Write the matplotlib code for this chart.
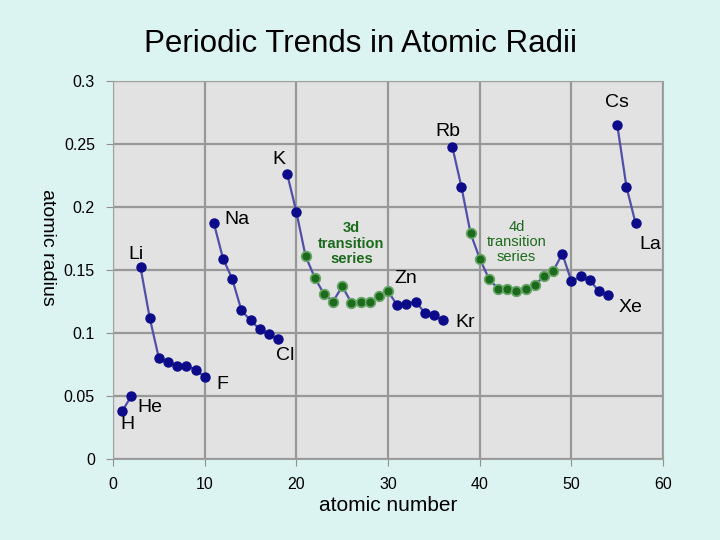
import matplotlib
matplotlib.use("Agg")
import matplotlib.pyplot as plt

plt.rcParams['font.family'] = ['Liberation Sans', 'DejaVu Sans']

# atomic numbers and radii, one list per period (each drawn as its own segment)
z_p1 = [1, 2]
r_p1 = [0.038, 0.050]
z_p2 = [3, 4, 5, 6, 7, 8, 9, 10]
r_p2 = [0.152, 0.112, 0.080, 0.077, 0.074, 0.074, 0.071, 0.065]
z_p3 = [11, 12, 13, 14, 15, 16, 17, 18]
r_p3 = [0.187, 0.159, 0.143, 0.118, 0.110, 0.103, 0.099, 0.095]
z_p4 = list(range(19, 37))
r_p4 = [0.226, 0.196, 0.161, 0.144, 0.131, 0.125, 0.137, 0.124, 0.125, 0.125,
        0.129, 0.133, 0.122, 0.123, 0.125, 0.116, 0.114, 0.110]
z_p5 = list(range(37, 55))
r_p5 = [0.248, 0.216, 0.179, 0.159, 0.143, 0.135, 0.135, 0.133, 0.135, 0.138,
        0.145, 0.149, 0.163, 0.141, 0.145, 0.142, 0.133, 0.130]
z_p6 = [55, 56, 57]
r_p6 = [0.265, 0.216, 0.187]

# transition series (drawn green)
z_3d = list(range(21, 31))
z_4d = list(range(39, 49))

labels = ["H", "He", "Li", "F", "Na", "Cl", "K", "Zn", "Kr", "Rb", "Cs", "La", "Xe"]
label_x = [1.6, 4.0, 2.5, 11.9, 13.5, 18.8, 18.1, 31.9, 38.4, 36.5, 55.0, 58.6, 56.4]
label_y = [0.027, 0.041, 0.162, 0.059, 0.190, 0.082, 0.238, 0.143, 0.108, 0.260, 0.283, 0.170, 0.120]

blue = '#0c0c8a'
line_c = '#5050a8'
green = '#1c6a1c'

fig = plt.figure(figsize=(7.2, 5.4), dpi=100, facecolor='#dcf4f1')
ax = fig.add_axes([0.157, 0.15, 0.764, 0.70])
ax.set_facecolor('#e2e2e2')

periods = [(z_p1, r_p1), (z_p2, r_p2), (z_p3, r_p3), (z_p4, r_p4), (z_p5, r_p5), (z_p6, r_p6)]
for zs, rs in periods:
    ax.plot(zs, rs, '-', color=line_c, lw=1.6, zorder=3)
    ax.plot(zs, rs, 'o', color=blue, ms=6.5, zorder=4)

for zs, rs, series in [(z_p4, r_p4, z_3d), (z_p5, r_p5, z_4d)]:
    gz = [z for z in zs if z in series]
    gr = [r for z, r in zip(zs, rs) if z in series]
    ax.plot(gz, gr, 'o', color=green, ms=7, mec='#6aa86a', mew=1.2, zorder=5)

for t, x, y in zip(labels, label_x, label_y):
    ax.text(x, y, t, fontsize=14, ha='center', va='center', zorder=6)

ax.text(26.0, 0.171, "3d\ntransition\nseries", color=green, fontsize=10.5, fontweight='bold',
        ha='center', va='center', linespacing=1.1, zorder=6)
ax.text(44.0, 0.172, "4d\ntransition\nseries", color=green, fontsize=10.5,
        ha='center', va='center', linespacing=1.1, zorder=6)

ax.set_xlim(0, 60)
ax.set_ylim(0, 0.3)
ax.set_xticks([0, 10, 20, 30, 40, 50, 60])
ax.set_yticks([0, 0.05, 0.1, 0.15, 0.2, 0.25, 0.3])
ax.set_yticklabels(['0', '0.05', '0.1', '0.15', '0.2', '0.25', '0.3'])
ax.grid(True, color='#989898', lw=1.6)
ax.set_axisbelow(True)
for s in ax.spines.values():
    s.set_color('#a0a0a0')
ax.tick_params(colors='#909090', labelcolor='black', labelsize=11.5, length=5, pad=8)

ax.set_xlabel('atomic number', fontsize=15, labelpad=3)
ax.set_ylabel('atomic radius', fontsize=14, rotation=270, ha='center', va='center')
ax.yaxis.set_label_coords(-0.12, 0.56)
fig.text(0.5, 0.918, 'Periodic Trends in Atomic Radii', fontsize=22.5, ha='center', va='center')

fig.savefig('out.png', dpi=100, facecolor=fig.get_facecolor())
